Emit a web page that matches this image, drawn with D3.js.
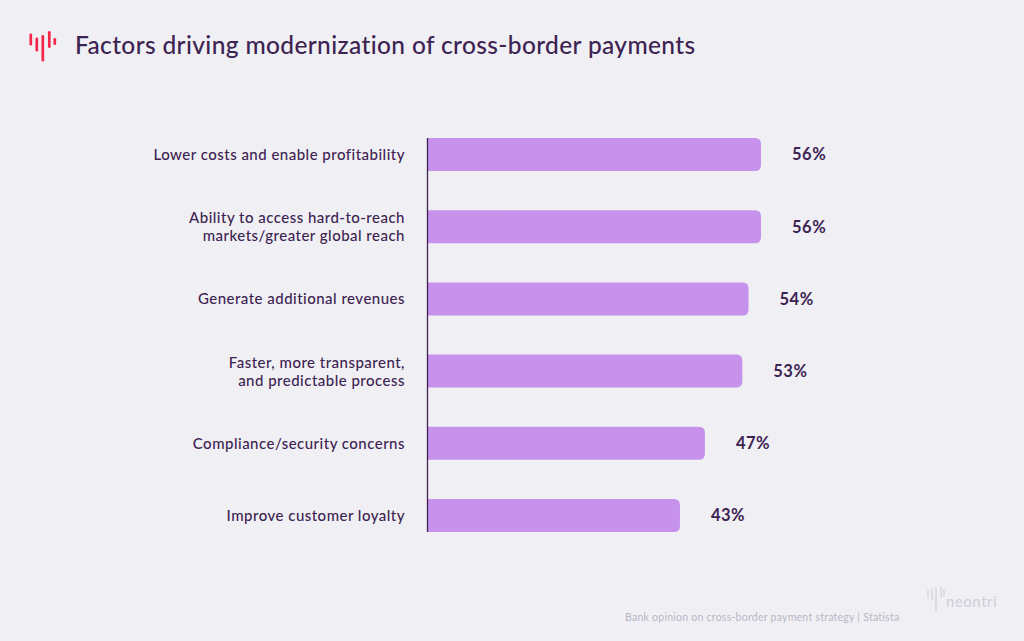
<!DOCTYPE html>
<html><head><meta charset="utf-8">
<script src="https://cdn.jsdelivr.net/npm/d3@7"></script>
<style>
html,body{margin:0;padding:0;background:#f0f0f4;}
svg{display:block;font-family:Lato, "Noto Sans", sans-serif;}
</style></head>
<body>
<svg id="chart" width="1024" height="641"></svg>
<script>
const categories = [
  ["Lower costs and enable profitability"],
  ["Ability to access hard-to-reach", "markets/greater global reach"],
  ["Generate additional revenues"],
  ["Faster, more transparent,", "and predictable process"],
  ["Compliance/security concerns"],
  ["Improve customer loyalty"]
];
const values = [56, 56, 54, 53, 47, 43];
const valueLabels = ["56%", "56%", "54%", "53%", "47%", "43%"];
const title = "Factors driving modernization of cross-border payments";
const source = "Bank opinion on cross-border payment strategy | Statista";

const svg = d3.select("#chart");
const dark = "#3d2352";
const barColor = "#c792ec";

svg.append("rect").attr("width",1024).attr("height",641).attr("fill","#f0f0f4");

// logo
const logo = [[29.5,33.5,45.5],[35.5,37.5,51.5],[41.5,35,61.5],[48,31,48],[53.5,38,45]];
svg.append("g").selectAll("line").data(logo).join("line")
  .attr("x1",d=>d[0]+1.3).attr("x2",d=>d[0]+1.3).attr("y1",d=>d[1]+1.3).attr("y2",d=>d[2]-1.3)
  .attr("stroke","#f5264a").attr("stroke-width",2.7).attr("stroke-linecap","round");

svg.append("text").attr("x",75).attr("y",54).text(title)
  .attr("fill",dark).attr("font-size",24.5).attr("font-weight",500).attr("letter-spacing",0.36);

const x = d3.scaleLinear().domain([0,56]).range([412,761]);
const bandH = 33;
const step = (532-138-bandH)/(values.length-1);
const yc = i => 138 + bandH/2 + i*step;

const g = svg.append("g");
g.selectAll("path.bar").data(values).join("path").attr("class","bar")
  .attr("fill",barColor)
  .attr("d",(d,i)=>{
    const x0 = 428, x1 = x(d), y0 = yc(i)-bandH/2, y1 = yc(i)+bandH/2, r = 6;
    return `M${x0},${y0}H${x1-r}Q${x1},${y0} ${x1},${y0+r}V${y1-r}Q${x1},${y1} ${x1-r},${y1}H${x0}Z`;
  });

// axis line
g.append("line").attr("x1",427.5).attr("x2",427.5).attr("y1",138).attr("y2",532)
  .attr("stroke",dark).attr("stroke-width",1.3);

// value labels
g.selectAll("text.val").data(values).join("text").attr("class","val")
  .attr("x",d=>x(d)+31).attr("y",(d,i)=>yc(i)).attr("dy","0.36em")
  .attr("fill",dark).attr("font-size",16.5).attr("font-weight",700).attr("letter-spacing",0.5)
  .text((d,i)=>valueLabels[i]);

// category labels
const cl = g.selectAll("text.cat").data(categories).join("text").attr("class","cat")
  .attr("text-anchor","end").attr("fill",dark).attr("font-size",15).attr("font-weight",500)
  .attr("letter-spacing",0.48);
cl.each(function(lines,i){
  const t = d3.select(this);
  const lh = 18;
  const start = yc(i) - (lines.length-1)*lh/2;
  lines.forEach((l,j)=>{
    t.append("tspan").attr("x",405).attr("y",start+j*lh).attr("dy","0.36em").text(l);
  });
});

// footer
svg.append("text").attr("x",625).attr("y",621).text(source)
  .attr("fill","#b9b6c6").attr("font-size",10.5).attr("letter-spacing",0.25);

// neontri watermark
const wm = [[928,591,598],[932,589,600],[936,588,611],[941,587,597],[944,590,596]];
svg.append("g").selectAll("line").data(wm).join("line")
  .attr("x1",d=>d[0]).attr("x2",d=>d[0]).attr("y1",d=>d[1]).attr("y2",d=>d[2])
  .attr("stroke","#d2d0da").attr("stroke-width",1.3).attr("stroke-linecap","round");
svg.append("text").attr("x",946).attr("y",607).text("neontri")
  .attr("fill","#d2d0da").attr("font-size",15).attr("font-weight",500).attr("letter-spacing",0.5);
</script>
</body></html>
